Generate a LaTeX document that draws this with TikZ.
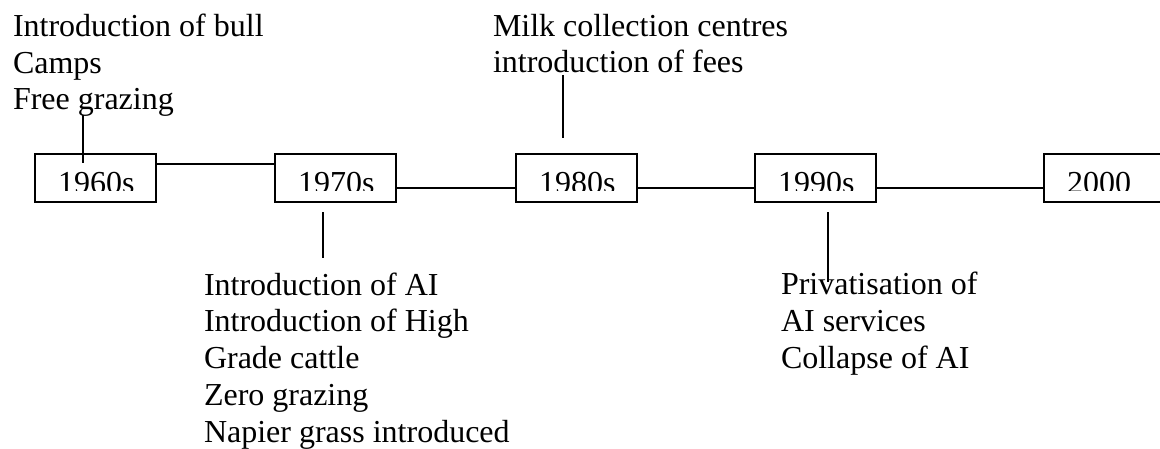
\documentclass[tikz,border=0pt]{standalone}
\usepackage{fontspec}
\setmainfont{Liberation Serif}
\usetikzlibrary{positioning}
\begin{document}
\begin{tikzpicture}[x=1pt, y=-1pt, line width=2pt,
	year_node/.style={draw, minimum width=121pt, minimum height=48pt, inner sep=0pt, anchor=north west},
	year_text/.style={inner sep=0pt, anchor=base west, font=\fontsize{32}{36.7}\selectfont},
	note_node/.style={inner sep=0pt, anchor=base west, align=left, font=\fontsize{32}{36.7}\selectfont}]
				\useasboundingbox (0,0) rectangle (1160,449);
				
				% decades, the text is cut by the box
				\foreach \n/\yr/\xl in {1/1960s/34, 2/1970s/274, 3/1980s/515, 4/1990s/754, 5/2000/1043}{
					\node[year_node] (\n) at (\xl,153) {};
					\begin{scope}
						\clip (\xl,153) rectangle (\xl+121,191);
						\node[year_text] (y\n) at (\xl+23,194) {\yr};
					\end{scope}
				}
				
				% base = last line
				\node[note_node] (6) at (12,110) {Introduction of bull\\Camps\\Free grazing};
				\node[note_node] (7) at (203,442) {Introduction of AI\\Introduction of High\\Grade cattle\\Zero grazing\\Napier grass introduced};
				\node[note_node] (8) at (492,73) {Milk collection centres\\introduction of fees};
				\node[note_node] (9) at (780,368) {Privatisation of\\AI services\\Collapse of AI};
				
				\coordinate (c6) at (83,115);
				\coordinate (c7) at (323,258);
				\coordinate (c8) at (563,75);
				\coordinate (c9) at (828,282);
				
				\path
				([yshift=14pt]1.east) edge ([yshift=14pt]2.west)
				([yshift=-10pt]2.east) edge ([yshift=-10pt]3.west)
				([yshift=-10pt]3.east) edge ([yshift=-10pt]4.west)
				([yshift=-10pt]4.east) edge ([yshift=-10pt]5.west)
				(c6) edge ([xshift=49pt,yshift=-10pt]1.north west)
				(c7) edge ([xshift=49pt,yshift=-9pt]2.south west)
				(c8) edge ([xshift=48pt,yshift=15pt]3.north west)
				(c9) edge ([xshift=74pt,yshift=-9pt]4.south west);
			\end{tikzpicture}
\end{document}
